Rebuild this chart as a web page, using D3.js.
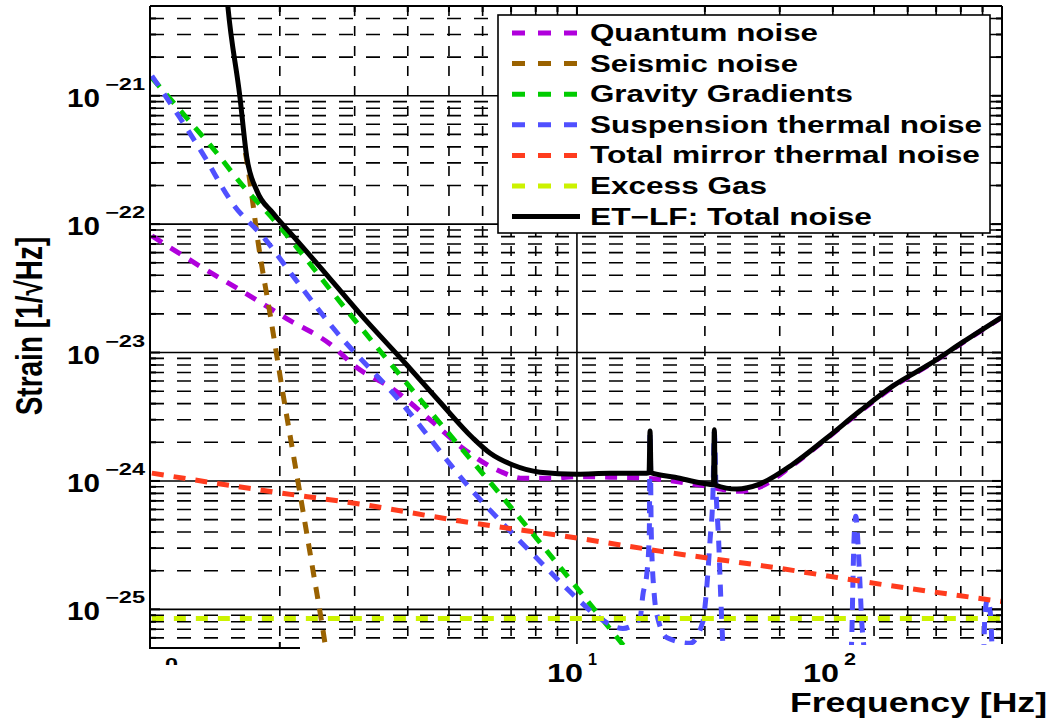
<!DOCTYPE html>
<html>
<head>
<meta charset="utf-8">
<script src="https://cdn.jsdelivr.net/npm/d3@7/dist/d3.min.js"></script>
<style>
	body { margin: 0; background: #fff; }
	text { font-family: "Liberation Sans", Arial, sans-serif; font-weight: bold; fill: #000; }
</style>
</head>
<body>
<svg id="chart" width="1053" height="718"></svg>
<script>
	// values, [frequency in Hz, strain in 1/sqrt(Hz)]
	var quantumNoise = [[1.0, 8.1e-23], [1.318, 4.56e-23], [1.655, 2.92e-23], [2.08, 1.83e-23], [2.62, 1.17e-23],
		[3.04, 7.6e-24], [3.69, 5.2e-24], [4.51, 3.0e-24], [5.39, 1.8e-24], [6.59, 1.19e-24], [7.46, 1.05e-24],
		[8.63, 1.05e-24], [10, 1.08e-24], [12, 1.07e-24], [14.6, 1.05e-24], [19.8, 9.2e-25], [24, 8.3e-25],
		[27, 9.0e-25], [32.2, 1.33e-24], [38.7, 2.14e-24], [46.3, 3.45e-24], [55.4, 5.4e-24], [67.7, 8.1e-24],
		[81, 1.2e-23], [100, 1.88e-23]];
	var seismicNoise = [[1.66, 3.6e-22], [1.673, 3.1e-22], [1.719, 1.66e-22], [1.776, 7.41e-23], [1.895, 2.04e-23],
		[2.03, 5.0e-24], [2.23, 8.05e-25], [2.38, 2.25e-25], [2.554, 5.45e-26], [2.595, 3.8e-26]];
	var gravityGradients = [[1.0, 1.38e-21], [1.196, 6.98e-22], [1.407, 3.73e-22], [1.637, 1.99e-22], [1.927, 1.1e-22],
		[2.92, 2.0e-23], [4.51, 3.5e-24], [6.7, 7.4e-25], [9.27, 2.0e-25], [12.8, 5.35e-26], [14.1, 3.6e-26]];
	var suspensionThermal = [[1.0, 1.43e-21], [1.164, 6.74e-22], [1.318, 3.53e-22], [1.551, 1.44e-22], [1.845, 7.67e-23],
		[2.147, 3.95e-23], [2.667, 1.56e-23], [3.83, 4.2e-24], [5.6, 8.8e-25], [8.05, 2.5e-25], [10, 1.22e-25],
		[11.33, 8.5e-26], [12.83, 7.1e-26], [14.07, 8.5e-26], [14.3, 1.31e-25], [14.6, 1.88e-25], [14.8, 3.9e-25],
		[14.86, 2.4e-24], [14.96, 3.9e-25], [15.2, 1.31e-25], [15.5, 8.5e-26], [16.3, 6.0e-26], [18.45, 5.45e-26],
		[19.8, 8.1e-26], [20.1, 1.22e-25], [20.56, 3.4e-25], [20.9, 8.3e-25], [21.05, 2.4e-24], [21.25, 8.3e-25],
		[21.55, 3.4e-25], [21.8, 1.22e-25], [22.06, 5.2e-26], [22.4, 3.3e-26], [30, 2.0e-26], [43.9, 3.5e-26],
		[44.4, 7.8e-26], [44.6, 1.66e-25], [44.85, 3.4e-25], [45.3, 5.3e-25], [45.8, 3.4e-25], [46.3, 1.66e-25],
		[46.8, 7.8e-26], [47.3, 5.2e-26], [47.8, 3.3e-26], [70, 2.0e-26], [90.2, 3.5e-26], [91.2, 9.2e-26],
		[92.5, 1.2e-25], [94.0, 9.0e-26], [95.1, 4.0e-26], [100, 2.0e-26]];
	var mirrorThermal = [[1.0, 1.15e-24], [1.865, 8.35e-25], [3.09, 6.6e-25], [5.31, 4.87e-25], [10, 3.59e-25],
		[15.67, 2.84e-25], [29.6, 2.1e-25], [46.3, 1.66e-25], [100, 1.15e-25]];
	var excessGas = [[1.0, 8.5e-26], [100, 8.5e-26]];
	var totalNoise = [[1.49, 8e-21], [1.51, 4.9e-21], [1.61, 1.0e-21], [1.673, 3.29e-22], [1.766, 1.82e-22],
		[1.927, 1.22e-22], [2.147, 8.1e-23], [2.485, 4.65e-23], [3.09, 2.0e-23], [3.98, 8.0e-24], [4.76, 4.12e-24],
		[5.69, 2.16e-24], [6.24, 1.65e-24], [7.07, 1.33e-24], [8.18, 1.17e-24], [10, 1.13e-24],
		[11.96, 1.15e-24], [14.6, 1.15e-24], [14.78, 1.16e-24], [14.86, 2.45e-24], [14.94, 1.16e-24], [17, 1.07e-24],
		[19.8, 9.6e-25], [20.95, 9.35e-25], [21.05, 2.5e-24], [21.15, 9.3e-25], [23.8, 8.65e-25], [26.9, 9.46e-25],
		[32.2, 1.35e-24], [38.7, 2.16e-24], [46.3, 3.5e-24], [55.4, 5.5e-24], [67.7, 8.15e-24], [81, 1.21e-23],
		[100, 1.89e-23]];

	var seriesNames = ["Quantum noise", "Seismic noise", "Gravity Gradients", "Suspension thermal noise",
		"Total mirror thermal noise", "Excess Gas", "ET\u2212LF: Total noise"];
	var seriesData = [quantumNoise, seismicNoise, gravityGradients, suspensionThermal, mirrorThermal, excessGas, totalNoise];
	var seriesColors = ["#b000dc", "#9a6200", "#00cc00", "#5050ff", "#ff3c1e", "#ccf200", "#000000"];
	var xTickLabels = [["10", "1"], ["10", "2"]];

	// layout (the picture is stretched sideways, so text gets fixed widths)
	var legendTextWidth = [228, 208, 263, 392, 390, 177, 282];
	var xLabelLeft = [547, 803];

	var svg = d3.select("#chart");
	var x = d3.scaleLog().domain([0.99, 100]).range([150, 1002]);
	var y = d3.scaleLog().domain([5e-26, 5e-21]).range([648, 6]);
	var plotTop = 6, plotBottom = 645, plotLeft = 150, plotRight = 1002;

	function isDecade(v) {
		var l = Math.log10(v);
		return Math.abs(l - Math.round(l)) < 1e-6;
	}

	// grid
	var xTicks = x.ticks().filter(function(v) { return x(v) > plotLeft + 2 && x(v) < plotRight - 2; });
	var yTicks = y.ticks().filter(function(v) { return y(v) > plotTop + 2 && y(v) < 646; });

	var grid = svg.append("g");
	grid.selectAll("line.h").data(yTicks).enter().append("line")
		.attr("x1", plotLeft).attr("x2", plotRight)
		.attr("y1", function(d) { return y(d); }).attr("y2", function(d) { return y(d); })
		.attr("stroke", "#000").attr("stroke-width", 1.6)
		.attr("stroke-dasharray", function(d) { return isDecade(d) ? null : "14,13"; });
	grid.selectAll("line.v").data(xTicks).enter().append("line")
		.attr("y1", plotTop).attr("y2", 644)
		.attr("x1", function(d) { return x(d); }).attr("x2", function(d) { return x(d); })
		.attr("stroke", "#000").attr("stroke-width", 1.6)
		.attr("stroke-dasharray", function(d) { return isDecade(d) ? null : "10,10"; });

	// curves
	svg.append("clipPath").attr("id", "plotClip").append("rect")
		.attr("x", plotLeft).attr("y", plotTop)
		.attr("width", plotRight - plotLeft).attr("height", plotBottom - plotTop);

	var line = d3.line()
		.x(function(d) { return x(d[0]); })
		.y(function(d) { return y(d[1]); })
		.curve(d3.curveMonotoneX);

	var curves = svg.append("g").attr("clip-path", "url(#plotClip)");
	seriesData.forEach(function(data, i) {
		var solid = i == seriesData.length - 1;
		curves.append("path")
			.attr("d", line(data))
			.attr("fill", "none")
			.attr("stroke", seriesColors[i])
			.attr("stroke-width", 5)
			.attr("stroke-linejoin", "round")
			.attr("stroke-dasharray", solid ? null : "12,10");
	});

	// frame and ticks
	var frame = svg.append("g").attr("stroke", "#000").attr("stroke-width", 2);
	frame.append("line").attr("x1", plotLeft).attr("x2", plotRight).attr("y1", plotTop).attr("y2", plotTop);
	frame.append("line").attr("x1", plotLeft).attr("x2", plotLeft).attr("y1", plotTop).attr("y2", 649);
	frame.append("line").attr("x1", plotRight).attr("x2", plotRight).attr("y1", plotTop).attr("y2", 644);
	frame.append("line").attr("x1", plotLeft).attr("x2", 300).attr("y1", 648).attr("y2", 648);
	yTicks.forEach(function(v) {
		var len = isDecade(v) ? 10 : 6;
		frame.append("line").attr("x1", plotLeft).attr("x2", plotLeft + len).attr("y1", y(v)).attr("y2", y(v));
		frame.append("line").attr("x1", plotRight).attr("x2", plotRight - len).attr("y1", y(v)).attr("y2", y(v));
	});
	xTicks.forEach(function(v) {
		var len = isDecade(v) ? 10 : 6;
		frame.append("line").attr("x1", x(v)).attr("x2", x(v)).attr("y1", plotTop).attr("y2", plotTop + len);
		if(x(v) < 300) {
			frame.append("line").attr("x1", x(v)).attr("x2", x(v)).attr("y1", 648).attr("y2", 648 - len);
		}
	});

	// y tick labels
	var yDecades = yTicks.filter(isDecade);
	yDecades.forEach(function(v) {
		var exponent = Math.round(Math.log10(v));
		svg.append("text").attr("x", 67).attr("y", y(v) + 11)
			.attr("font-size", 26).attr("textLength", 33).attr("lengthAdjust", "spacingAndGlyphs")
			.text("10");
		svg.append("text").attr("x", 105).attr("y", y(v) - 6)
			.attr("font-size", 16).attr("textLength", 40).attr("lengthAdjust", "spacingAndGlyphs")
			.text("\u2212" + Math.abs(exponent));
	});

	// x tick labels
	xTickLabels.forEach(function(t, i) {
		svg.append("text").attr("x", xLabelLeft[i]).attr("y", 682)
			.attr("font-size", 26).attr("textLength", 36).attr("lengthAdjust", "spacingAndGlyphs")
			.text(t[0]);
		svg.append("text").attr("x", xLabelLeft[i] + 41).attr("y", 665)
			.attr("font-size", 16).attr("textLength", i == 0 ? 9 : 12).attr("lengthAdjust", "spacingAndGlyphs")
			.text(t[1]);
	});
	// the "10^0" label is cut off in the source, only the top of its exponent shows
	svg.append("clipPath").attr("id", "cutLabel").append("rect")
		.attr("x", 150).attr("y", 650).attr("width", 50).attr("height", 15);
	svg.append("text").attr("x", 165).attr("y", 670).attr("clip-path", "url(#cutLabel)")
		.attr("font-size", 16).attr("textLength", 13).attr("lengthAdjust", "spacingAndGlyphs")
		.text("0");

	// axis titles
	svg.append("text")
		.attr("transform", "translate(42,326) scale(1.3,1) rotate(-90)")
		.attr("text-anchor", "middle").attr("font-size", 28)
		.text("Strain [1/\u221AHz]");
	svg.append("text").attr("x", 790).attr("y", 712)
		.attr("font-size", 28).attr("textLength", 257).attr("lengthAdjust", "spacingAndGlyphs")
		.text("Frequency [Hz]");

	// legend
	var legend = svg.append("g");
	legend.append("rect").attr("x", 498).attr("y", 15).attr("width", 492).attr("height", 218)
		.attr("fill", "#fff").attr("stroke", "#000").attr("stroke-width", 1.6);
	seriesNames.forEach(function(name, i) {
		var cy = 33 + i * 30.6;
		var solid = i == seriesNames.length - 1;
		legend.append("line").attr("x1", 512).attr("x2", solid ? 580 : 578).attr("y1", cy).attr("y2", cy)
			.attr("stroke", seriesColors[i]).attr("stroke-width", 5)
			.attr("stroke-dasharray", solid ? null : "13,13");
		legend.append("text").attr("x", 590).attr("y", cy + 8)
			.attr("font-size", 23).attr("textLength", legendTextWidth[i]).attr("lengthAdjust", "spacingAndGlyphs")
			.text(name);
	});
</script>
</body>
</html>
